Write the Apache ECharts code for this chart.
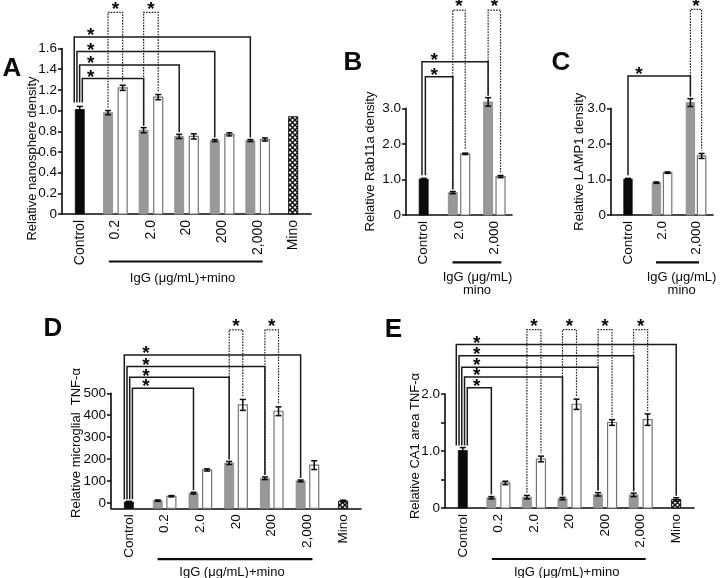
<!DOCTYPE html>
<html><head><meta charset="utf-8">
<script src="https://cdn.jsdelivr.net/npm/echarts@6/dist/echarts.min.js"></script>
<style>html,body{margin:0;padding:0;background:#fff}#c{width:720px;height:578px}</style>
</head><body><div id="c"></div>
<script>
// ================= DATA =================
const catsFull  = ['Control', '0.2', '2.0', '20', '200', '2,000', 'Mino'];
const catsShort = ['Control', '2.0', '2,000'];

// Panel A – Relative nanosphere density
const aSingle    = [1.01, null, null, null, null, null, 0.94];
const aSingleErr = [0.03, null, null, null, null, null, 0];
const aGray      = [null, 0.98, 0.81, 0.75, 0.71, 0.71, null];
const aGrayErr   = [null, 0.02, 0.025, 0.02, 0.01, 0.01, null];
const aWhite     = [null, 1.22, 1.13, 0.75, 0.77, 0.72, null];
const aWhiteErr  = [null, 0.025, 0.025, 0.025, 0.015, 0.015, null];
const aSolid     = [[5, 1.71], [4, 1.57], [3, 1.44], [2, 1.31]];   // [target category, bracket height]
const aDotted    = [[1, 1.95], [2, 1.95]];                          // [category, bracket height]
const aTicks     = [0, 0.2, 0.4, 0.6, 0.8, 1.0, 1.2, 1.4, 1.6];
const aLabels    = [0, 0.2, 0.4, 0.6, 0.8, 1.0, 1.2, 1.4, 1.6];

// Panel B – Relative Rab11a density
const bSingle    = [1.01, null, null];
const bSingleErr = [0.02, null, null];
const bGray      = [null, 0.63, 3.18];
const bGrayErr   = [null, 0.03, 0.12];
const bWhite     = [null, 1.72, 1.08];
const bWhiteErr  = [null, 0.02, 0.03];
const bSolid     = [[2, 4.31], [1, 3.89]];
const bDotted    = [[1, 5.76], [2, 5.76]];
const bTicks     = [0, 1, 2, 3];
const bLabels    = [0, 1, 2, 3];

// Panel C – Relative LAMP1 density
const cSingle    = [1.01, null, null];
const cSingleErr = [0.02, null, null];
const cGray      = [null, 0.91, 3.16];
const cGrayErr   = [null, 0.02, 0.11];
const cWhite     = [null, 1.19, 1.66];
const cWhiteErr  = [null, 0.02, 0.07];
const cSolid     = [[2, 3.91]];
const cDotted    = [[2, 5.78]];
const cTicks     = [0, 1, 2, 3];
const cLabels    = [0, 1, 2, 3];

// Panel D – Relative microglial TNF-α
const dSingle    = [4, null, null, null, null, null, 8];
const dSingleErr = [3, null, null, null, null, null, 4];
const dGray      = [null, 10, 44, 182, 112, 100, null];
const dGrayErr   = [null, 3, 4, 7, 6, 4, null];
const dWhite     = [null, 30, 150, 447, 418, 172, null];
const dWhiteErr  = [null, 3, 5, 25, 20, 20, null];
const dSolid     = [[5, 675], [4, 622], [3, 573], [2, 523]];
const dDotted    = [[3, 790], [4, 790]];
const dTicks     = [0, 100, 200, 300, 400, 500];
const dLabels    = [0, 100, 200, 300, 400, 500];

// Panel E – Relative CA1 area TNF-α
const eSingle    = [1.01, null, null, null, null, null, 0.15];
const eSingleErr = [0.05, null, null, null, null, null, 0.03];
const eGray      = [null, 0.18, 0.19, 0.165, 0.24, 0.23, null];
const eGrayErr   = [null, 0.02, 0.03, 0.02, 0.03, 0.03, null];
const eWhite     = [null, 0.44, 0.86, 1.82, 1.50, 1.55, null];
const eWhiteErr  = [null, 0.03, 0.05, 0.09, 0.05, 0.10, null];
const eSolid     = [[6, 2.87], [5, 2.67], [4, 2.47], [3, 2.30], [1, 2.11]];
const eDotted    = [[2, 3.13], [3, 3.13], [4, 3.13], [5, 3.13]];
const eTicks     = [0, 0.5, 1.0, 1.5, 2.0];
const eLabels    = [0, 1.0, 2.0];

// ================= STYLE / LAYOUT =================
const FONT = 'Liberation Sans, Arial, Helvetica, sans-serif';
const INK = '#0a0a0a';

function makeHatch() {
  const c = document.createElement('canvas');
  c.width = 5; c.height = 5;
  const g = c.getContext('2d');
  g.fillStyle = '#ffffff'; g.fillRect(0, 0, 5, 5);
  g.strokeStyle = '#111'; g.lineWidth = 1.5;
  g.beginPath();
  g.moveTo(-1, -1); g.lineTo(6, 6);
  g.moveTo(6, -1); g.lineTo(-1, 6);
  g.stroke();
  return c;
}
const HATCH = makeHatch();

const panels = [
  { idx: 0, cats: catsFull, single: aSingle, singleErr: aSingleErr, gray: aGray, grayErr: aGrayErr,
    white: aWhite, whiteErr: aWhiteErr, solid: aSolid, dotted: aDotted, ticks: aTicks, labels: aLabels,
    grid: { left: 62, top: 48.5, width: 249, height: 165.5 }, yMin: 0, yMax: 1.6,
    pairOff: 7.3, barW: 9, capW: 6, spread: 2.7, leftShift: -1.5, gapL: 4, gapR: 2, dotGap: 3,
    starDx: 11, starDy: 1, dotStarDy: 2, xlab: 14, ulGap: 47.5, ulL: -6.5, ulR: 5 },
  { idx: 1, cats: catsShort, single: bSingle, singleErr: bSingleErr, gray: bGray, grayErr: bGrayErr,
    white: bWhite, whiteErr: bWhiteErr, solid: bSolid, dotted: bDotted, ticks: bTicks, labels: bLabels,
    grid: { left: 406, top: 108.3, width: 106, height: 106.7 }, yMin: 0, yMax: 3,
    pairOff: 6.2, barW: 9, capW: 6, spread: 3.4, leftShift: 0, gapL: 3, gapR: 2, dotGap: 3,
    starDx: 10.5, starDy: 1, dotStarDy: 2, xlab: 13.5, ulGap: 47.3, ulL: -6.5, ulR: 7 },
  { idx: 2, cats: catsShort, single: cSingle, singleErr: cSingleErr, gray: cGray, grayErr: cGrayErr,
    white: cWhite, whiteErr: cWhiteErr, solid: cSolid, dotted: cDotted, ticks: cTicks, labels: cLabels,
    grid: { left: 611, top: 108.3, width: 102, height: 106.7 }, yMin: 0, yMax: 3,
    pairOff: 5.6, barW: 8.4, capW: 6, spread: 3, leftShift: 0, gapL: 3, gapR: 2, dotGap: 3,
    starDx: 11, starDy: 1, dotStarDy: 2, xlab: 13.5, ulGap: 47.3, ulL: -6, ulR: 3 },
  { idx: 3, cats: catsFull, single: dSingle, singleErr: dSingleErr, gray: dGray, grayErr: dGrayErr,
    white: dWhite, whiteErr: dWhiteErr, solid: dSolid, dotted: dDotted, ticks: dTicks, labels: dLabels,
    grid: { left: 111, top: 393.3, width: 250, height: 115 }, yMin: -25, yMax: 500,
    pairOff: 6.8, barW: 9, capW: 6, spread: 2.7, leftShift: -0.5, gapL: 2, gapR: 2, dotGap: 3,
    starDx: 17, starDy: 1, dotStarDy: 2, xlab: 13.5, ulGap: 50.8, ulL: -7, ulR: 5 },
  { idx: 4, cats: catsFull, single: eSingle, singleErr: eSingleErr, gray: eGray, grayErr: eGrayErr,
    white: eWhite, whiteErr: eWhiteErr, solid: eSolid, dotted: eDotted, ticks: eTicks, labels: eLabels,
    grid: { left: 445, top: 394, width: 249, height: 114 }, yMin: 0, yMax: 2,
    pairOff: 7, barW: 9, capW: 6, spread: 2.75, leftShift: -1, gapL: 2, gapR: 2, dotGap: 3,
    starDx: 14, starDy: 1, dotStarDy: 2, xlab: 13.5, ulGap: 51, ulL: -6.5, ulR: 5 }
];

function fmt(v) {
  if (v === 0) return '0';
  if (Math.abs(v) < 10) return v.toFixed(1);
  return String(v);
}

function base(P) {
  return { type: 'custom', coordinateSystem: 'cartesian2d', xAxisIndex: P.idx, yAxisIndex: P.idx,
           clip: false, silent: true, animation: false, encode: { x: 0, y: 1 } };
}

function barSeries(P) {
  const items = [];
  P.single.forEach((v, i) => { if (v != null) items.push([i, v, P.singleErr[i], i === 0 ? 0 : 3]); });
  P.gray.forEach((v, i) => { if (v != null) items.push([i, v, P.grayErr[i], 1]); });
  P.white.forEach((v, i) => { if (v != null) items.push([i, v, P.whiteErr[i], 2]); });
  return Object.assign(base(P), {
    data: items,
    renderItem(params, api) {
      const cat = api.value(0), v = api.value(1), e = api.value(2), kind = api.value(3);
      const top = api.coord([cat, v]);
      const bot = api.coord([cat, P.yMin]);
      const cx = top[0] + (kind === 1 ? -P.pairOff : kind === 2 ? P.pairOff : 0);
      const w = P.barW;
      let style;
      if (kind === 0) style = { fill: INK, stroke: INK, lineWidth: 0.8 };
      else if (kind === 1) style = { fill: '#989898', stroke: '#8a8a8a', lineWidth: 0.8 };
      else if (kind === 2) style = { fill: '#ffffff', stroke: '#757575', lineWidth: 1.2 };
      else style = { fill: { image: HATCH, repeat: 'repeat' }, stroke: INK, lineWidth: 1 };
      const ch = [{ type: 'rect', shape: { x: cx - w / 2, y: top[1], width: w, height: bot[1] - top[1] }, style }];
      if (e > 0) {
        const y1 = api.coord([cat, v + e])[1], y2 = api.coord([cat, v - e])[1], cw = P.capW / 2;
        const ls = { stroke: INK, lineWidth: 1.5 };
        ch.push({ type: 'line', shape: { x1: cx, y1: y1, x2: cx, y2: y2 }, style: ls });
        ch.push({ type: 'line', shape: { x1: cx - cw, y1: y1, x2: cx + cw, y2: y1 }, style: ls });
        ch.push({ type: 'line', shape: { x1: cx - cw, y1: y2, x2: cx + cw, y2: y2 }, style: ls });
      }
      return { type: 'group', children: ch };
    }
  });
}

function starText(x, y) {
  return { type: 'text', style: { text: '*', x: x, y: y, fill: INK, font: 'bold 19px ' + FONT,
           align: 'center', verticalAlign: 'middle' } };
}

function solidSeries(P) {
  const n = P.solid.length;
  return Object.assign(base(P), {
    data: P.solid.map((s, k) => [s[0], s[1], k]),
    renderItem(params, api) {
      const to = api.value(0), h = api.value(1), k = api.value(2);
      const c0 = api.coord([0, h]);
      const xl = c0[0] + P.leftShift + (k - (n - 1) / 2) * P.spread;
      const yh = c0[1];
      const yl = api.coord([0, P.single[0] + P.singleErr[0]])[1] - P.gapL;
      const pair = P.gray[to] != null;
      const tv = pair ? P.gray[to] + P.grayErr[to] : P.single[to] + P.singleErr[to];
      const ct = api.coord([to, tv]);
      const xr = ct[0] + (pair ? -P.pairOff : 0);
      const yr = ct[1] - P.gapR;
      return { type: 'group', children: [
        { type: 'polyline', shape: { points: [[xl, yl], [xl, yh], [xr, yh], [xr, yr]] },
          style: { stroke: '#1a1a1a', lineWidth: 1.5, fill: 'none' } },
        starText(c0[0] + P.starDx, yh - P.starDy)
      ] };
    }
  });
}

function dottedSeries(P) {
  return Object.assign(base(P), {
    data: P.dotted.map(d => [d[0], d[1]]),
    renderItem(params, api) {
      const cat = api.value(0), h = api.value(1);
      const c = api.coord([cat, h]);
      const xl = c[0] - P.pairOff, xr = c[0] + P.pairOff, yh = c[1];
      const yl = api.coord([cat, P.gray[cat] + P.grayErr[cat]])[1] - P.dotGap;
      const yr = api.coord([cat, P.white[cat] + P.whiteErr[cat]])[1] - P.dotGap;
      return { type: 'group', children: [
        { type: 'polyline', shape: { points: [[xl, yl], [xl, yh], [xr, yh], [xr, yr]] },
          style: { stroke: '#222222', lineWidth: 1.2, lineDash: [1.6, 1.2], fill: 'none' } },
        starText(c[0], yh - P.dotStarDy - 1)
      ] };
    }
  });
}

function underlineSeries(P) {
  const idx = P.gray.map((v, i) => (v != null ? i : -1)).filter(i => i >= 0);
  return Object.assign(base(P), {
    data: [[idx[0], idx[idx.length - 1]]],
    renderItem(params, api) {
      const a = api.coord([api.value(0), P.yMin]);
      const b = api.coord([api.value(1), P.yMin]);
      const y = a[1] + P.ulGap;
      return { type: 'line', shape: { x1: a[0] + P.ulL, y1: y, x2: b[0] + P.ulR, y2: y },
               style: { stroke: INK, lineWidth: 2.2 } };
    }
  });
}

const series = [];
panels.forEach(P => {
  series.push(barSeries(P), solidSeries(P), dottedSeries(P), underlineSeries(P));
});

function txt(x, y, text, size, opt) {
  const o = Object.assign({ weight: 'normal', rot: 0 }, opt || {});
  return { type: 'text', x: x, y: y, rotation: o.rot, silent: true,
           style: { text: text, font: o.weight + ' ' + size + 'px ' + FONT, fill: INK,
                    align: 'center', verticalAlign: 'middle' } };
}
const R = Math.PI / 2;

const option = {
  animation: false,
  backgroundColor: '#ffffff',
  textStyle: { fontFamily: FONT },
  grid: panels.map(P => Object.assign({ containLabel: false, outerBoundsMode: 'none' }, P.grid)),
  xAxis: panels.map(P => ({
    gridIndex: P.idx, type: 'category', data: P.cats, boundaryGap: true,
    axisLine: { show: true, onZero: false, lineStyle: { color: INK, width: 1.6 } },
    axisTick: { show: false },
    axisLabel: { show: true, interval: 0, rotate: 90, margin: 6, fontSize: P.xlab, color: INK, fontFamily: FONT },
    splitLine: { show: false }
  })),
  yAxis: panels.map(P => ({
    gridIndex: P.idx, type: 'value', min: P.yMin, max: P.yMax,
    axisLine: { show: true, onZero: false, lineStyle: { color: INK, width: 1.6 } },
    axisTick: { show: true, inside: false, length: 4, customValues: P.ticks, lineStyle: { color: INK, width: 1.5 } },
    axisLabel: { show: true, customValues: P.labels, formatter: v => (v < 0 ? '' : fmt(v)),
                 margin: 5, fontSize: 13.5, color: INK, fontFamily: FONT },
    splitLine: { show: false }
  })),
  series: series,
  graphic: [
    txt(12, 69, 'A', 26, { weight: 'bold' }),
    txt(353, 62.5, 'B', 26, { weight: 'bold' }),
    txt(561, 62.5, 'C', 26, { weight: 'bold' }),
    txt(53, 329, 'D', 26, { weight: 'bold' }),
    txt(393.5, 329.5, 'E', 26, { weight: 'bold' }),
    txt(32.5, 158.5, 'Relative nanosphere density', 13, { rot: R }),
    txt(370.5, 161.5, 'Relative Rab11a density', 13, { rot: R }),
    txt(579, 161.7, 'Relative LAMP1 density', 13, { rot: R }),
    txt(76, 443, 'Relative microglial  TNF-α', 13, { rot: R }),
    txt(415.5, 446, 'Relative CA1 area TNF-α', 13, { rot: R }),
    txt(182.5, 278, 'IgG (μg/mL)+mino', 13),
    txt(477.5, 277.5, 'IgG (μg/mL)', 13),
    txt(477, 290.5, 'mino', 13),
    txt(681.5, 277.5, 'IgG (μg/mL)', 13),
    txt(681.7, 290.5, 'mino', 13),
    txt(232, 572, 'IgG (μg/mL)+mino', 13),
    txt(566.7, 572, 'IgG (μg/mL)+mino', 13)
  ]
};

const chart = echarts.init(document.getElementById('c'), null, { renderer: 'canvas', width: 720, height: 578 });
chart.setOption(option);
</script>
</body></html>
